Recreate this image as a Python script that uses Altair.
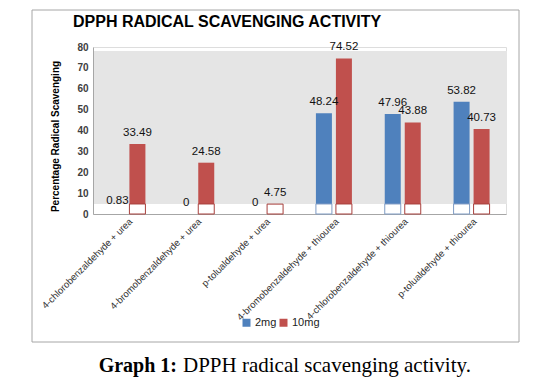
import altair as alt
import pandas as pd

compounds = [
    "4-chlorobenzaldehyde + urea",
    "4-bromobenzaldehyde + urea",
    "p-tolualdehyde + urea",
    "4-bromobenzaldehyde + thiourea",
    "4-chlorobenzaldehyde + thiourea",
    "p-tolualdehyde + thiourea",
]
doses = ["2mg", "10mg"]
values_2mg = [0.83, 0, 0, 48.24, 47.96, 53.82]
values_10mg = [33.49, 24.58, 4.75, 74.52, 43.88, 40.73]
y_ticks = [0, 10, 20, 30, 40, 50, 60, 70, 80]

rows = []
for c, v in zip(compounds, values_2mg):
    rows.append({"compound": c, "dose": "2mg", "value": v, "label": f"{v:g}"})
for c, v in zip(compounds, values_10mg):
    rows.append({"compound": c, "dose": "10mg", "value": v, "label": f"{v:g}"})
df = pd.DataFrame(rows)
one = pd.DataFrame({"a": [0]})

FLOOR = 4.8
SANS = "Liberation Sans"
SERIF = "Liberation Serif"
YT = "Percentage Radical Scavenging"

yscale = alt.Scale(domain=[0, 80], nice=False)
yaxis = alt.Axis(values=y_ticks, grid=False, ticks=False, domainColor="#a6a6a6",
                 labelOverlap=False,
                 labelFont=SANS, labelFontSize=10, labelFontWeight="bold",
                 labelColor="#404040", labelPadding=5,
                 titleFont=SANS, titleFontSize=10, titleFontWeight="bold",
                 titleColor="#000000", titlePadding=16, titleY=89)
x_enc = alt.X(
    "compound:N", sort=compounds,
    scale=alt.Scale(paddingInner=0.477, paddingOuter=0.2385),
    axis=alt.Axis(title=None, labelAngle=-45, labelFont=SANS, labelFontSize=9.5,
                  labelColor="#333333", ticks=False, domainColor="#a6a6a6",
                  labelPadding=2, labelLimit=300),
)
xo = alt.XOffset("dose:N", sort=doses, scale=alt.Scale(paddingInner=0.2, paddingOuter=0))

frame = alt.Chart(one).mark_rect(filled=False, stroke="#a6a6a6", strokeWidth=1).encode(
    x=alt.value(-61), x2=alt.value(426), y=alt.value(-37), y2=alt.value(295)
)
wall = alt.Chart(one).mark_rect(color="#e5e5e5").encode(
    x=alt.value(1), x2=alt.value(414), y=alt.value(4), y2=alt.value(157)
)

base = alt.Chart(df)

bars = base.transform_filter("datum.value > 1").mark_bar(opacity=1).encode(
    x=x_enc, xOffset=xo,
    y=alt.Y("value:Q", scale=yscale, title=YT, axis=yaxis),
    y2=alt.datum(FLOOR),
    color=alt.Color("dose:N", sort=doses,
                    scale=alt.Scale(domain=doses, range=["#4f81bd", "#c0504d"]),
                    legend=alt.Legend(title=None, orient="none", legendX=148, legendY=270,
                                      direction="horizontal", symbolType="square",
                                      symbolSize=64, symbolStrokeWidth=0,
                                      labelFont=SANS, labelFontSize=11, labelColor="#222222",
                                      columnPadding=1, labelOffset=3)),
)

outline = base.transform_filter("datum.value > 1").transform_calculate(
    low=f"min(datum.value, {FLOOR})"
).mark_bar(filled=False, strokeWidth=1).encode(
    x=x_enc, xOffset=xo,
    y=alt.Y("low:Q", scale=yscale, title=YT, axis=yaxis),
    y2=alt.datum(0),
    stroke=alt.Stroke("dose:N", sort=doses,
                      scale=alt.Scale(domain=doses, range=["#7f9cc4", "#a8403d"]),
                      legend=None),
)

labels = base.mark_text(dy=-11, font=SANS, fontSize=11.5, color="#111111").encode(
    x=x_enc, xOffset=xo,
    y=alt.Y("value:Q", scale=yscale, title=YT, axis=yaxis),
    text="label:N",
)

title = alt.Chart(one).mark_text(
    text="DPPH RADICAL SCAVENGING ACTIVITY", align="left", baseline="alphabetic",
    font=SANS, fontSize=16, fontWeight="bold", color="#000000"
).encode(x=alt.value(-20), y=alt.value(-20))

cap1 = alt.Chart(one).mark_text(
    text="Graph 1:", align="right", baseline="alphabetic",
    font=SERIF, fontSize=20, fontWeight="bold", color="#000000"
).encode(x=alt.value(84), y=alt.value(325))
cap2 = alt.Chart(one).mark_text(
    text="DPPH radical scavenging activity.", align="left", baseline="alphabetic",
    font=SERIF, fontSize=21, color="#000000"
).encode(x=alt.value(90), y=alt.value(325))

chart = alt.layer(frame, wall, bars, outline, labels, title, cap1, cap2).properties(
    width=413, height=167,
    autosize=alt.AutoSizeParams(type="none"),
    padding={"left": 85, "top": 39, "right": 27, "bottom": 170},
).configure_view(stroke=None).configure(background="white")

chart.save("out.html", embed_options={"renderer": "svg", "actions": False})
